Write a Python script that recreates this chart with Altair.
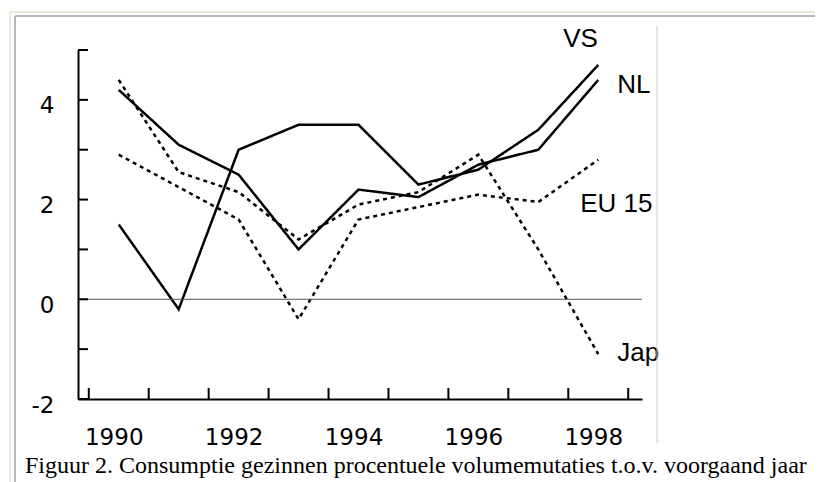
import altair as alt
import pandas as pd

# ---- data ----
years = [1990, 1991, 1992, 1993, 1994, 1995, 1996, 1997, 1998]
vs = [1.5, -0.2, 3.0, 3.5, 3.5, 2.3, 2.6, 3.4, 4.7]
nl = [4.2, 3.1, 2.5, 1.0, 2.2, 2.05, 2.7, 3.0, 4.4]
eu15 = [2.9, 2.25, 1.6, -0.4, 1.6, 1.85, 2.1, 1.95, 2.8]
jap = [4.4, 2.55, 2.15, 1.2, 1.9, 2.15, 2.9, 1.0, -1.1]
series_names = ["VS", "NL", "EU 15", "Jap"]
y_tick_values = [-2, -1, 0, 1, 2, 3, 4, 5]
y_label_values = [-2, 0, 2, 4]
x_tick_values = [1989.5, 1990.5, 1991.5, 1992.5, 1993.5, 1994.5, 1995.5, 1996.5, 1997.5, 1998.5]
x_label_values = [1990, 1992, 1994, 1996, 1998]
caption = "Figuur 2. Consumptie gezinnen procentuele volumemutaties t.o.v. voorgaand jaar"

# ---- tables ----
rows = []
for name, vals in zip(series_names, [vs, nl, eu15, jap]):
    for yr, v in zip(years, vals):
        rows.append({"year": yr, "value": v, "series": name})
df = pd.DataFrame(rows)
last = df[df["year"] == years[-1]]
ytick_df = pd.DataFrame({"value": y_tick_values})
xtick_df = pd.DataFrame({"year": x_tick_values})
zero_df = pd.DataFrame({"value": [0]})
one = pd.DataFrame({"a": [0]})

W, H = 564, 349
xscale = alt.Scale(domain=[1989.32, 1998.73], nice=False, zero=False)
yscale = alt.Scale(domain=[-2, 5], nice=False, zero=False)

xaxis = alt.Axis(values=x_label_values, labelExpr="'' + datum.value", ticks=False, tickSize=0,
                 grid=False, domainColor="black", domainWidth=2,
                 labelFont="DejaVu Sans", labelFontSize=23, labelColor="black",
                 labelPadding=27, labelOffset=-5, labelFlush=False)
yaxis = alt.Axis(values=y_label_values, labelExpr="'' + datum.value", ticks=False, tickSize=0,
                 grid=False, domainColor="black", domainWidth=2,
                 labelFont="DejaVu Sans", labelFontSize=23, labelColor="black",
                 labelPadding=24, labelOffset=6, labelFlush=False)

X = lambda f: alt.X(f, scale=xscale, title=None, axis=xaxis)
Y = lambda f: alt.Y(f, scale=yscale, title=None, axis=yaxis)

lines = alt.Chart(df).mark_line(color="black", strokeWidth=2.5, strokeCap="butt").encode(
    x=X("year:Q"),
    y=Y("value:Q"),
    detail="series:N",
    strokeDash=alt.StrokeDash("series:N", legend=None,
                              scale=alt.Scale(domain=series_names,
                                              range=[[1, 0], [1, 0], [4, 4], [4, 4]])),
)

zero = alt.Chart(zero_df).mark_rule(color="#555555", strokeWidth=1).encode(y=Y("value:Q"))

yticks = alt.Chart(ytick_df).mark_rule(color="black", strokeWidth=2).encode(
    y=Y("value:Q"), x=alt.value(0), x2=alt.value(10))
xticks = alt.Chart(xtick_df).mark_rule(color="black", strokeWidth=2).encode(
    x=X("year:Q"), y=alt.value(H), y2=alt.value(H - 11))

label_offsets = {"VS": (-35, -18), "NL": (19, 13), "EU 15": (-18, 52), "Jap": (19, 7)}
labels = []
for name in series_names:
    dx, dy = label_offsets[name]
    labels.append(
        alt.Chart(last[last["series"] == name]).mark_text(
            align="left", baseline="alphabetic", dx=dx, dy=dy,
            font="Liberation Sans", fontSize=26, color="black"
        ).encode(x=X("year:Q"), y=Y("value:Q"), text="series:N")
    )

# decorative frame of the original page
frame = [
    alt.Chart(one).mark_rule(color="#ECE9D8", strokeWidth=2).encode(
        x=alt.value(-68), x2=alt.value(740), y=alt.value(-38)),
    alt.Chart(one).mark_rule(color="#A0A0A0", strokeWidth=1.5).encode(
        x=alt.value(-63), x2=alt.value(740), y=alt.value(-34)),
    alt.Chart(one).mark_rule(color="#ECE9D8", strokeWidth=2).encode(
        x=alt.value(-68), y=alt.value(-38), y2=alt.value(440)),
    alt.Chart(one).mark_rule(color="#A0A0A0", strokeWidth=1.5).encode(
        x=alt.value(-63), y=alt.value(-34), y2=alt.value(440)),
    alt.Chart(one).mark_rule(color="#C8C8C8", strokeWidth=1).encode(
        x=alt.value(579), y=alt.value(-24), y2=alt.value(393)),
]

cap = alt.Chart(one).mark_text(
    align="left", baseline="alphabetic", font="Liberation Serif", fontSize=24, color="black"
).encode(x=alt.value(-53), y=alt.value(423), text=alt.value(caption))

chart = alt.layer(lines, zero, yticks, xticks, *labels, *frame, cap).properties(
    width=W, height=H,
    autosize="none",
    padding={"left": 70, "top": 42, "right": 173, "bottom": 83},
    background="white",
).configure_view(stroke=None)

chart.save("out.html", embed_options={"renderer": "svg", "actions": False})
